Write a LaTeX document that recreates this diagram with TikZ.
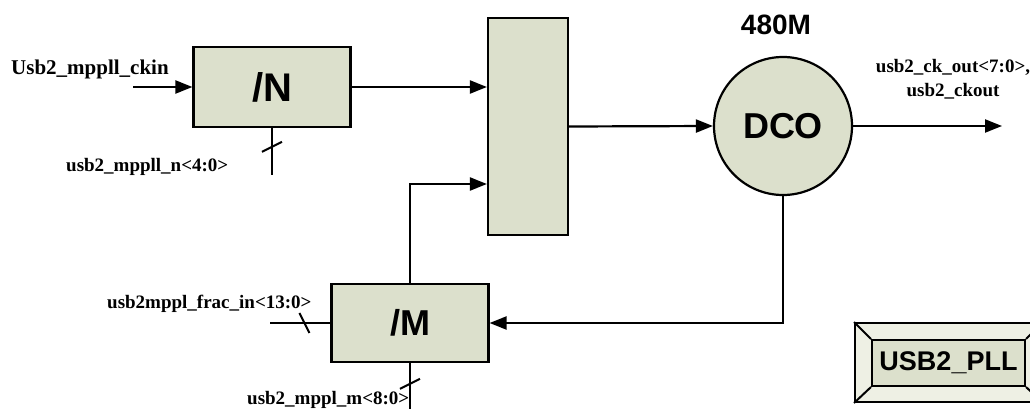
\documentclass[tikz,border=0pt]{standalone}
\usepackage{fontspec}
\setmainfont{Liberation Serif}
\newfontfamily\blkfont{Liberation Sans}
\usetikzlibrary{arrows.meta,positioning}
\definecolor{blkfill}{RGB}{220,224,204}
\definecolor{bevelfill}{RGB}{238,240,228}

\begin{document}
\begin{tikzpicture}[
  x=1pt, y=-1pt,
  blk/.style={draw, line width=2.2pt, fill=blkfill, inner sep=0pt,
              font=\blkfont\bfseries\fontsize{36}{40}\selectfont},
  sig/.style={inner sep=0pt, font=\bfseries\fontsize{19}{24}\selectfont},
  wire/.style={line width=2.2pt},
  arr/.style={wire, -{Triangle[length=17pt,width=13pt]}},
  bustick/.pic={\draw[line width=2pt] (-5,-10) -- (5,10);}
]
\useasboundingbox (0,0) rectangle (1030,409);

% blocks
\node[blk, minimum width=157pt, minimum height=80pt,
      font=\blkfont\bfseries\fontsize{40}{44}\selectfont] (divN) at (272,87) {/N};
\node[blk, minimum width=80pt, minimum height=217pt] (mux) at (528,126.5) {};
\node[blk, circle, minimum size=138pt] (dco) at (783,126) {DCO};
\node[blk, minimum width=157pt, minimum height=78pt] (divM) at (410,323) {/M};
\node[anchor=base, inner sep=0pt,
      font=\blkfont\bfseries\fontsize{28}{30}\selectfont] (freq) at (776,35) {480M};

% free ends
\coordinate (ckin) at (133,87);
\coordinate (nbus) at (272,175);
\coordinate (ckout) at (1002,126);
\coordinate (fracin) at (270,323);
\coordinate (mbus) at (410,415);

% connections
\draw[arr] (ckin) -- (divN.west);
\draw[wire] (divN.south) -- pic[pos=0.4, sloped]{bustick} (nbus);
\draw[arr] (divN.east) -- (divN.east -| mux.west);
\draw[arr] (divM.north) |- ([yshift=-57.5pt]mux.west);
\draw[arr] (mux.east) -- (dco.west);
\draw[arr] (dco.east) -- (ckout);
\draw[arr] (dco.south) |- (divM.east);
\draw[wire] (fracin) -- pic[pos=0.57, sloped]{bustick} (divM.west);
\draw[wire] (divM.south) -- pic[pos=0.4, sloped]{bustick} (mbus);

% signal names
\node[sig, anchor=base west, font=\bfseries\fontsize{21}{24}\selectfont]
    (ckinlbl) at (11,75) {Usb2\_mppll\_ckin};
\node[sig, anchor=base west] (nlbl) at (66,171) {usb2\_mppll\_n<4:0>};
\node[sig, anchor=base west] (fraclbl) at (107,308) {usb2mppl\_frac\_in<13:0>};
\node[sig, anchor=base west] (mlbl) at (247,404) {usb2\_mppl\_m<8:0>};
\node[sig, align=center, anchor=base] (outlbl) at (953,97)
    {usb2\_ck\_out<7:0>,\\usb2\_ckout};

% block name
\node[draw, line width=2pt, fill=bevelfill, minimum width=187pt,
      minimum height=79pt] (pllframe) at (948.5,362.5) {};
\node[blk, line width=2pt, minimum width=153pt, minimum height=46pt,
      font=\blkfont\bfseries\fontsize{27}{30}\selectfont] (pll) at (948.5,363) {USB2\_PLL};
\draw[line width=2pt] (pllframe.north west) -- (pll.north west)
  (pllframe.north east) -- (pll.north east)
  (pllframe.south west) -- (pll.south west)
  (pllframe.south east) -- (pll.south east);
\end{tikzpicture}
\end{document}
